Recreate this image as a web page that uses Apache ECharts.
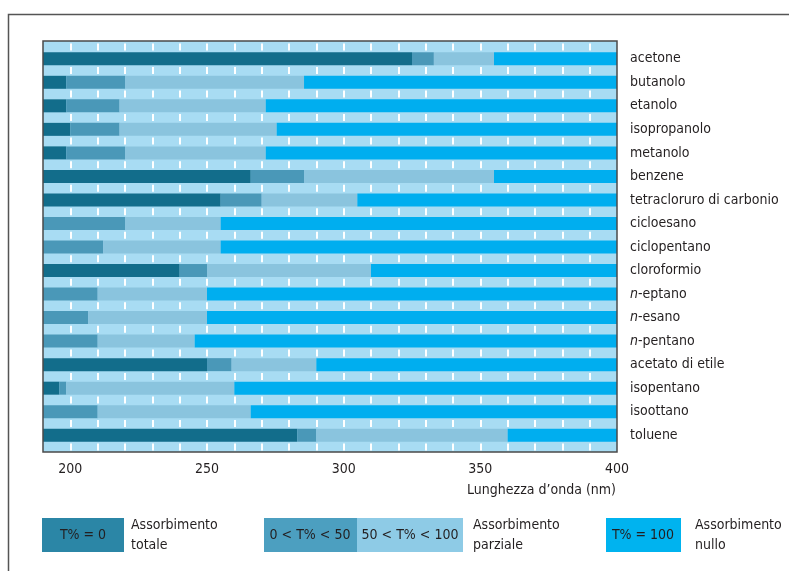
<!DOCTYPE html>
<html>
<head>
<meta charset="utf-8">
<script src="https://cdn.jsdelivr.net/npm/echarts@6/dist/echarts.min.js"></script>
<style>
  html, body { margin: 0; padding: 0; background: #fff; }
  #chart { width: 789px; height: 571px; }
</style>
</head>
<body>
<div id="chart"></div>
<script>
// solventi, dall'alto in basso
const solvents = [
  'acetone', 'butanolo', 'etanolo', 'isopropanolo', 'metanolo', 'benzene',
  'tetracloruro di carbonio', 'cicloesano', 'ciclopentano', 'cloroformio',
  'n-eptano', 'n-esano', 'n-pentano', 'acetato di etile', 'isopentano',
  'isoottano', 'toluene'
];
// lunghezza d'onda (nm) a cui finisce ogni zona
const totalEnd       = [325, 198.5, 198.5, 200, 198.5, 266, 255, 190, 190, 240, 190, 190, 190, 250, 196, 190, 283];
const partialLowEnd  = [333, 220, 218, 218, 220, 285.5, 270, 220, 212, 250, 210, 206.5, 210, 259, 198.5, 210, 290];
const partialHighEnd = [355, 285.5, 271.5, 275.5, 271.5, 355, 305, 255, 255, 310, 250, 250, 245.5, 290, 260, 266, 360];
const axisMin = 190;
const axisMax = 400;
const xTicks = [200, 250, 300, 350, 400];

const font = "'DejaVu Sans Condensed', 'Liberation Sans Narrow', sans-serif";
const fs = 14;
const textColor = '#231f20';
const colors = ['#126d8b', '#4a98b8', '#8ac4de', '#00aeef'];

// segmenti impilati
const seg1 = totalEnd;
const seg2 = partialLowEnd.map((v, i) => v - totalEnd[i]);
const seg3 = partialHighEnd.map((v, i) => v - partialLowEnd[i]);
const seg4 = partialHighEnd.map(v => axisMax - v);

const names = ['T% = 0', '0 < T% < 50', '50 < T% < 100', 'T% = 100'];
const segs = [seg1, seg2, seg3, seg4];

const chart = echarts.init(document.getElementById('chart'));

function legendText(x, y, txt, align) {
  return {
    type: 'text', x: x, y: y, z: 100,
    style: {
      text: txt, font: fs + 'px ' + font, fill: textColor,
      align: align || 'left', verticalAlign: 'middle', lineHeight: 20
    }
  };
}
function legendBox(x, w, color) {
  return { type: 'rect', z: 100, shape: { x: x, y: 518, width: w, height: 34 }, style: { fill: color } };
}

chart.setOption({
  animation: false,
  grid: [
    { left: 43, right: 172, top: 47, bottom: 124, outerBoundsMode: 'none' },
    { left: 43, top: 41, width: 574, height: 411, show: true, backgroundColor: '#a8dcf3', borderWidth: 0, outerBoundsMode: 'none' }
  ],
  xAxis: [
    { gridIndex: 0, type: 'value', min: axisMin, max: axisMax, show: false },
    {
      gridIndex: 1, type: 'value', min: axisMin, max: axisMax, interval: 10,
      axisLine: { show: false }, axisTick: { show: false },
      axisLabel: {
        margin: 10, fontSize: fs, fontFamily: font, color: textColor,
        formatter: v => (xTicks.indexOf(v) >= 0 ? String(v) : '')
      },
      splitLine: {
        show: true, showMinLine: false, showMaxLine: false,
        lineStyle: { color: '#ffffff', width: 2, type: [7, 16.53], dashOffset: 21.03 }
      }
    }
  ],
  yAxis: [
    {
      gridIndex: 0, type: 'category', data: solvents, inverse: true, position: 'right',
      axisLine: { show: false }, axisTick: { show: false },
      axisLabel: {
        margin: 13, fontSize: fs, fontFamily: font, color: textColor,
        formatter: n => (n.indexOf('n-') === 0 ? '{i|n}' + n.slice(1) : n),
        rich: { i: { fontStyle: 'italic', fontSize: fs, fontFamily: font, color: textColor } }
      }
    },
    { gridIndex: 1, type: 'value', show: false }
  ],
  series: segs.map((d, k) => ({
    name: names[k],
    type: 'bar',
    stack: 'zone',
    xAxisIndex: 0, yAxisIndex: 0,
    barWidth: 13,
    itemStyle: { color: colors[k] },
    data: d
  })),
  graphic: [
    // cornice esterna
    { type: 'polyline', z: 100, shape: { points: [[8.5, 571], [8.5, 14.5], [789, 14.5]] },
      style: { stroke: '#555', lineWidth: 1.5, fill: null } },
    // bordo area grafico
    { type: 'rect', z: 100, shape: { x: 43, y: 41, width: 574, height: 411 },
      style: { stroke: '#4a4a4a', lineWidth: 1.5, fill: null } },
    legendText(616, 490, "Lunghezza d\u2019onda (nm)", 'right'),
    // legenda
    legendBox(42, 82, '#2b86a6'),
    legendText(83, 535, 'T% = 0', 'center'),
    legendText(131, 535, 'Assorbimento\ntotale'),
    legendBox(264, 93, '#4c9fc0'),
    legendBox(357, 106, '#8ecbe6'),
    legendText(310, 535, '0 < T% < 50', 'center'),
    legendText(410, 535, '50 < T% < 100', 'center'),
    legendText(473, 535, 'Assorbimento\nparziale'),
    legendBox(606, 75, '#00b3ef'),
    legendText(643, 535, 'T% = 100', 'center'),
    legendText(695, 535, 'Assorbimento\nnullo')
  ]
});
</script>
</body>
</html>
